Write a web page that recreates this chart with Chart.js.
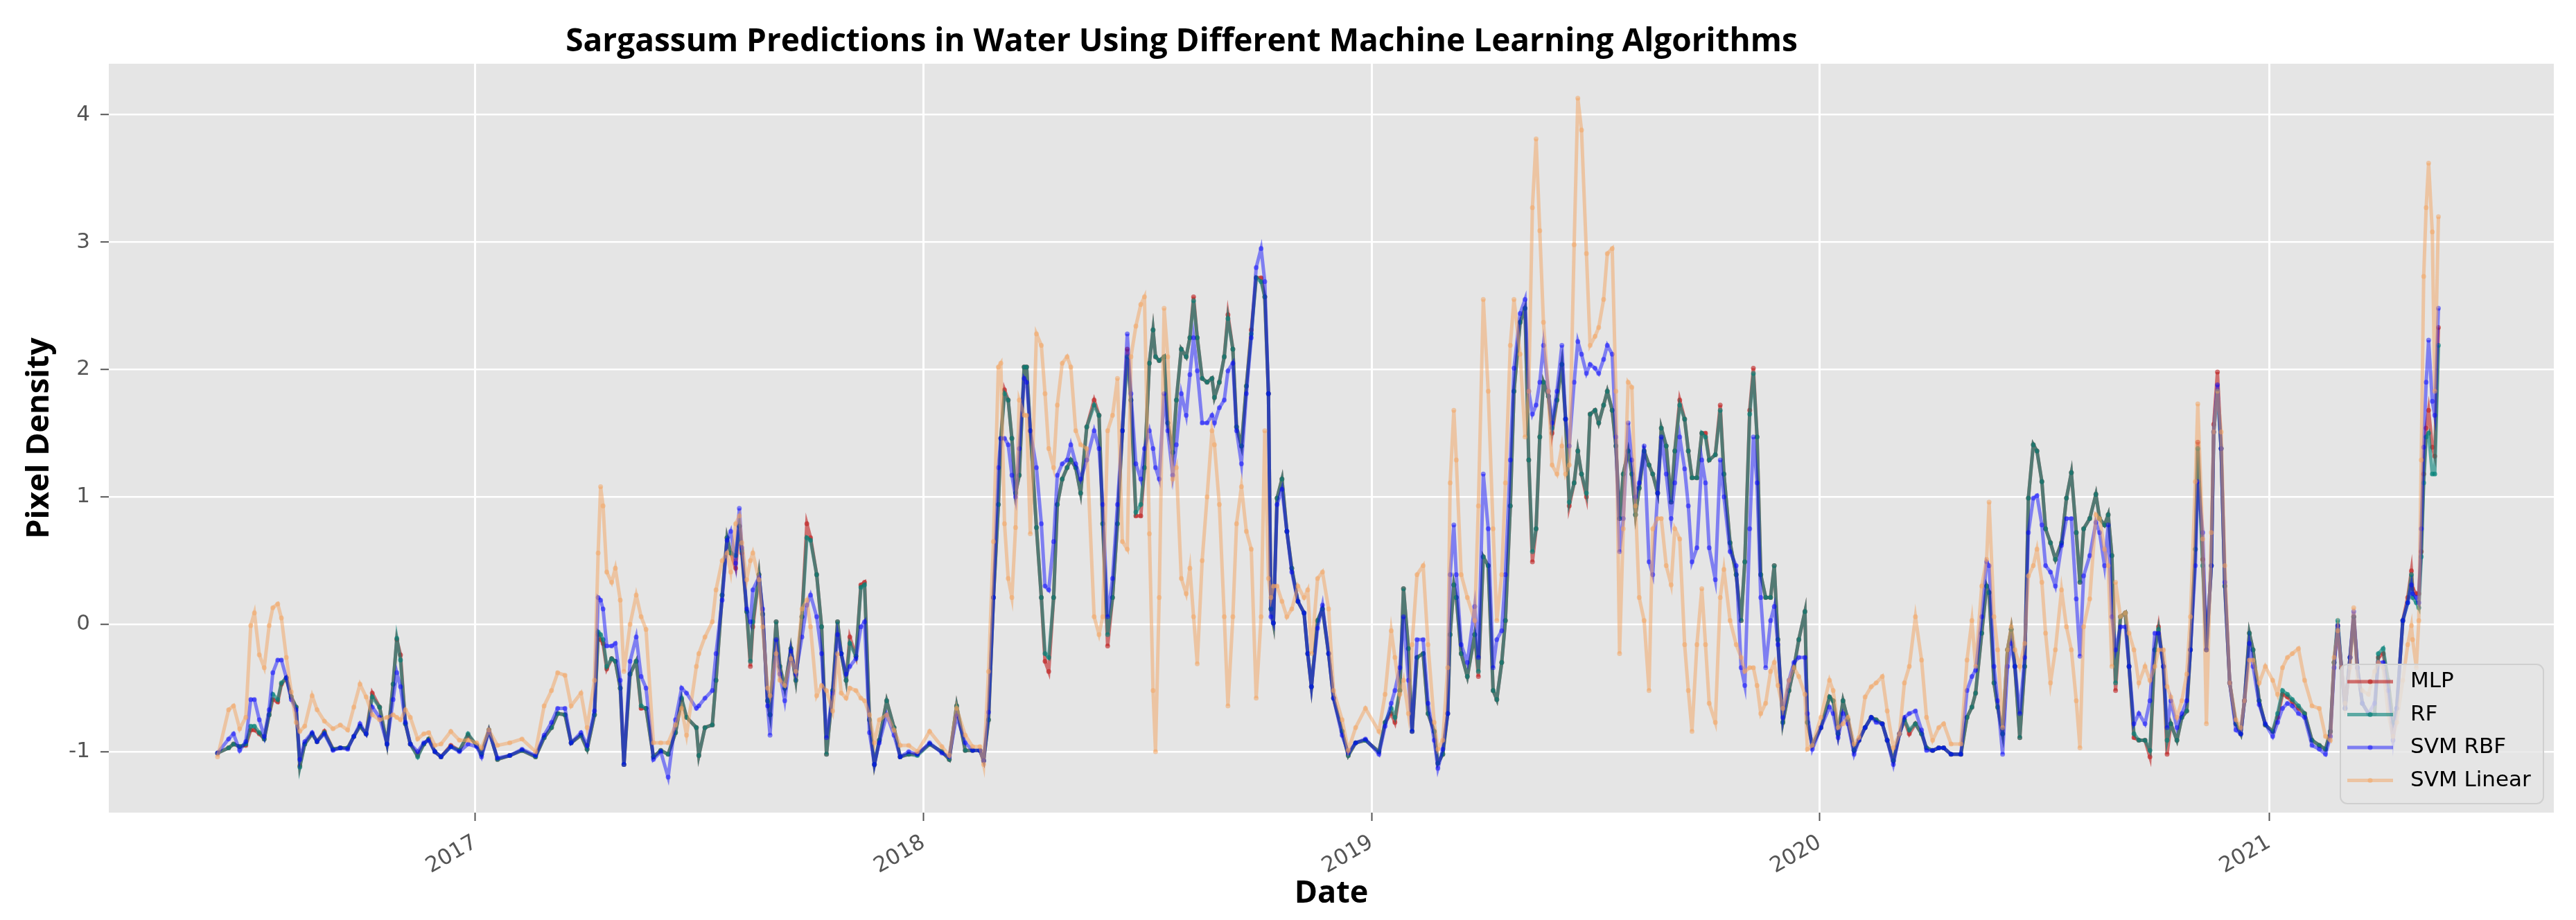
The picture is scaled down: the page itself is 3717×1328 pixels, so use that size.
<!DOCTYPE html>
<html>
<head>
<meta charset="utf-8">
<title>Sargassum Predictions in Water</title>
<script src="https://cdn.jsdelivr.net/npm/chart.js@4.4.1/dist/chart.umd.min.js"></script>
<style>
  html, body { margin: 0; padding: 0; background: #fff; }
  canvas { display: block; }
</style>
</head>
<body>
<canvas id="predChart" width="3717" height="1328"></canvas>
<script>
// x values: day number counted from 2016-01-01
const days = [
  // 2016
  156,165,169,174,179,183,186,190,194,198, 201,205,208,212,216,220,223,227,233,237,
  243,250,256,262,267,272,277,282,288,294, 299,302,305,309,313,319,324,328,333,338,
  346,353,360,
  // 2017
  367,371,377,384,394,404,415,422,428,433, 439,444,452,457,463,466,468,470,473,477,
  480,484,487,492,497,501,505,511,517,523, 529,534,538,546,548,553,559,562,567,571,
  574,578,581,583,587,590,592,597,600,604, 606,611,614,618,623,627,632,636,639,644,
  648,652,657,661,664,668,671,676,680,683, 687,691,695,701,707,712,719,726,
  // 2018
  736,746,752,758,765,771,777,780,784,788, 792,794,797,800,803,806,809,813,815,818,
  823,827,830,833,837,840,844,848,851,855, 859,864,870,874,877,881,885,889,893,897,
  900,904,908,911,915,918,920,923,927,930, 934,937,941,945,948,951,954,958,962,966,
  968,972,976,979,983,986,990,994,998,1002, 1006,1009,1012,1014,1016,1019,1023,1027,1031,1036,
  1041,1044,1047,1052,1056,1061,1065,1072,1077,1083, 1091,
  // 2019
  1102,1107,1112,1115,1119,1122,1126,1129,1133,1138, 1142,1147,1150,1154,1158,1160,1163,1165,1169,1174,
  1180,1183,1187,1191,1195,1198,1202,1205,1209,1212, 1217,1221,1224,1227,1230,1233,1236,1240,1243,1247,
  1251,1254,1257,1261,1264,1267,1271,1274,1278,1281, 1285,1288,1292,1295,1298,1301,1305,1308,1311,1314,
  1318,1322,1325,1329,1332,1336,1340,1343,1347,1351, 1354,1357,1361,1365,1368,1371,1376,1380,1383,1388,
  1393,1397,1400,1404,1407,1410,1413,1417,1421,1424, 1427,1431,1436,1440,1444,1449,1451,1455,
  // 2020
  1462,1469,1472,1476,1480,1484,1489,1493,1498,1503, 1507,1512,1516,1521,1526,1530,1534,1539,1544,1548,
  1553,1558,1562,1568,1576,1581,1585,1588,1593,1597, 1599,1603,1606,1610,1614,1617,1620,1624,1628,1631,
  1635,1638,1642,1645,1649,1653,1658,1662,1666,1670, 1673,1676,1681,1686,1689,1693,1696,1699,1702,1706,
  1710,1713,1717,1721,1726,1730,1734,1737,1741,1744, 1747,1752,1756,1760,1763,1767,1769,1773,1776,1780,
  1782,1785,1788,1791,1795,1800,1804,1807,1811,1814, 1819,1824,1830,
  // 2021
  1834,1838,1842,1846,1851,1856,1862,1868,1873,1877, 1880,1883,1886,1889,1893,1896,1899,1903,1908,1913,
  1916,1920,1924,1928,1931,1936,1940,1943,1944,1947, 1949,1951,1953,1955,1957,1960,1962,1965
];

const mlp = [
  -1.01,-0.97,-0.94,-0.96,-0.95,-0.83,-0.83,-0.86,-0.90,-0.71, -0.59,-0.61,-0.47,-0.42,-0.57,-0.65,-1.11,-0.94,-0.86,-0.92,
  -0.84,-0.98,-0.97,-0.97,-0.88,-0.80,-0.86,-0.54,-0.65,-0.94, -0.47,-0.12,-0.24,-0.78,-0.94,-1.03,-0.94,-0.90,-1.00,-1.04,
  -0.95,-0.99,-0.87,
  -0.95,-1.02,-0.83,-1.06,-1.03,-0.99,-1.04,-0.89,-0.81,-0.70, -0.71,-0.93,-0.87,-0.98,-0.71,-0.08,-0.12,-0.15,-0.35,-0.27,
  -0.29,-0.50,-1.10,-0.39,-0.29,-0.66,-0.66,-1.04,-0.99,-1.02, -0.85,-0.59,-0.73,-0.81,-1.03,-0.81,-0.79,-0.44,0.23,0.68,
  0.56,0.44,0.77,0.56,0.10,-0.33,-0.02,0.39,0.08,-0.60, -0.71,0.02,-0.33,-0.50,-0.19,-0.44,0.06,0.79,0.68,0.39,
  -0.02,-1.02,-0.52,0.02,-0.23,-0.44,-0.10,-0.25,0.31,0.33, -0.75,-1.10,-0.91,-0.60,-0.81,-1.04,-1.02,-1.02,
  -0.94,-1.00,-1.06,-0.64,-0.99,-0.99,-0.99,-1.07,-0.75,0.21, 0.94,1.46,1.84,1.76,1.46,1.03,1.17,2.02,2.02,1.52,
  0.76,0.21,-0.29,-0.37,0.21,0.94,1.14,1.23,1.29,1.23, 1.03,1.55,1.76,1.64,0.79,-0.17,0.21,0.79,1.52,2.16,
  1.76,0.85,0.85,1.23,2.05,2.31,2.10,2.07,2.10,1.58, 1.35,1.76,2.16,2.10,2.25,2.57,2.25,1.93,1.90,1.93,
  1.78,1.90,2.10,2.43,2.16,1.55,1.40,1.87,2.31,2.72, 2.72,2.57,1.81,0.12,0.01,0.99,1.14,0.73,0.44,0.18,
  0.09,-0.23,-0.49,0.03,0.12,-0.23,-0.58,-0.84,-1.03,-0.93, -0.91,
  -1.00,-0.77,-0.70,-0.77,-0.52,0.28,-0.19,-0.84,-0.26,-0.23, -0.70,-0.84,-1.09,-1.02,-0.70,-0.08,0.31,0.21,-0.23,-0.41,
  -0.08,-0.41,0.53,0.46,-0.52,-0.59,-0.30,0.03,0.93,1.83, 2.37,2.48,1.29,0.49,0.75,1.47,1.90,1.79,1.50,1.76,
  2.04,1.61,0.93,1.11,1.36,1.18,1.00,1.65,1.68,1.58, 1.72,1.83,1.68,1.40,0.83,1.18,1.36,1.18,0.86,1.07,
  1.36,1.25,1.18,1.03,1.54,1.40,0.96,1.36,1.76,1.61, 1.36,1.15,1.15,1.50,1.50,1.29,1.33,1.72,1.18,0.64,
  0.39,0.03,0.49,1.68,2.01,1.47,0.39,0.21,0.21,0.46, -0.12,-0.77,-0.52,-0.34,-0.12,0.10,-0.77,-0.95,
  -0.81,-0.57,-0.60,-0.86,-0.60,-0.75,-0.99,-0.91,-0.81,-0.73, -0.75,-0.78,-0.91,-1.07,-0.86,-0.75,-0.86,-0.78,-0.86,-0.97,
  -0.99,-0.97,-0.97,-1.02,-1.02,-0.73,-0.65,-0.54,-0.07,0.30, 0.25,-0.46,-0.65,-0.86,-0.20,-0.04,-0.33,-0.89,-0.33,0.99,
  1.41,1.36,1.12,0.75,0.64,0.51,0.64,0.99,1.19,0.72, 0.33,0.75,0.83,1.02,0.83,0.78,0.86,0.54,-0.52,0.06,
  0.09,-0.33,-0.89,-0.91,-0.91,-1.04,-0.20,-0.02,-0.33,-1.02, -0.78,-0.91,-0.73,-0.68,-0.20,0.59,1.43,0.51,-0.20,0.46,
  1.57,1.98,1.38,0.30,-0.46,-0.78,-0.86,-0.60,-0.07,-0.20, -0.60,-0.79,-0.84,
  -0.73,-0.55,-0.57,-0.61,-0.66,-0.70,-0.91,-0.95,-0.98,-0.84, -0.30,-0.01,-0.34,-0.66,-0.26,0.06,-0.34,-0.62,-0.70,-0.70,
  -0.26,-0.23,-0.44,-0.77,-0.66,0.03,0.21,0.42,0.28,0.24, 0.24,0.57,1.18,1.54,1.68,1.39,1.32,2.33
];

const rf = [
  -1.01,-0.97,-0.94,-0.96,-0.94,-0.80,-0.80,-0.85,-0.90,-0.71, -0.55,-0.59,-0.46,-0.42,-0.57,-0.65,-1.12,-0.94,-0.86,-0.92,
  -0.85,-0.98,-0.97,-0.97,-0.88,-0.80,-0.86,-0.57,-0.65,-0.94, -0.47,-0.11,-0.28,-0.78,-0.94,-1.04,-0.94,-0.90,-1.00,-1.04,
  -0.96,-0.99,-0.86,
  -0.95,-1.02,-0.83,-1.06,-1.03,-0.99,-1.04,-0.89,-0.81,-0.70, -0.71,-0.93,-0.87,-0.98,-0.71,-0.06,-0.08,-0.12,-0.33,-0.27,
  -0.29,-0.50,-1.10,-0.39,-0.29,-0.64,-0.66,-1.04,-0.99,-1.02, -0.85,-0.58,-0.73,-0.81,-1.03,-0.81,-0.79,-0.44,0.23,0.68,
  0.56,0.54,0.77,0.58,0.10,-0.29,0.02,0.39,0.08,-0.60, -0.71,0.02,-0.33,-0.50,-0.19,-0.44,0.06,0.68,0.66,0.39,
  -0.02,-1.02,-0.52,0.02,-0.23,-0.44,-0.15,-0.25,0.29,0.31, -0.75,-1.10,-0.91,-0.60,-0.81,-1.04,-1.02,-1.03,
  -0.94,-1.00,-1.06,-0.64,-0.99,-0.99,-0.99,-1.07,-0.75,0.21, 0.94,1.46,1.81,1.76,1.46,1.03,1.17,2.02,2.02,1.52,
  0.76,0.21,-0.23,-0.26,0.21,0.94,1.14,1.23,1.29,1.23, 1.03,1.55,1.72,1.64,0.79,-0.08,0.21,0.79,1.52,2.10,
  1.76,0.88,0.94,1.23,2.05,2.31,2.10,2.07,2.10,1.58, 1.35,1.76,2.16,2.10,2.25,2.54,2.25,1.93,1.90,1.93,
  1.78,1.90,2.10,2.40,2.16,1.55,1.40,1.87,2.28,2.72, 2.69,2.57,1.81,0.12,0.01,0.99,1.14,0.73,0.44,0.18,
  0.09,-0.23,-0.49,0.03,0.12,-0.23,-0.58,-0.84,-1.03,-0.93, -0.91,
  -1.00,-0.77,-0.66,-0.73,-0.52,0.28,-0.19,-0.84,-0.26,-0.23, -0.70,-0.84,-1.09,-1.02,-0.70,-0.08,0.31,0.21,-0.23,-0.41,
  -0.08,-0.37,0.53,0.46,-0.52,-0.59,-0.30,0.03,0.93,1.83, 2.37,2.48,1.29,0.57,0.75,1.47,1.90,1.79,1.54,1.76,
  2.04,1.61,0.96,1.11,1.36,1.18,1.03,1.65,1.68,1.58, 1.72,1.83,1.68,1.40,0.83,1.18,1.36,1.18,0.86,1.07,
  1.36,1.25,1.18,1.03,1.54,1.40,0.96,1.36,1.72,1.61, 1.36,1.15,1.15,1.50,1.47,1.29,1.33,1.68,1.18,0.64,
  0.39,0.03,0.49,1.65,1.97,1.47,0.39,0.21,0.21,0.46, -0.12,-0.77,-0.52,-0.34,-0.12,0.10,-0.77,-0.95,
  -0.81,-0.57,-0.60,-0.86,-0.60,-0.75,-0.99,-0.91,-0.81,-0.73, -0.75,-0.78,-0.91,-1.07,-0.86,-0.75,-0.83,-0.78,-0.86,-0.97,
  -0.99,-0.97,-0.97,-1.02,-1.02,-0.73,-0.65,-0.54,-0.07,0.30, 0.25,-0.46,-0.65,-0.86,-0.20,-0.04,-0.33,-0.89,-0.33,0.99,
  1.41,1.36,1.12,0.75,0.64,0.51,0.64,0.99,1.19,0.72, 0.33,0.75,0.83,1.02,0.83,0.78,0.86,0.54,-0.46,0.06,
  0.09,-0.33,-0.86,-0.91,-0.91,-0.99,-0.20,-0.04,-0.33,-0.91, -0.78,-0.91,-0.73,-0.68,-0.20,0.59,1.38,0.46,-0.20,0.46,
  1.51,1.83,1.38,0.30,-0.46,-0.78,-0.86,-0.60,-0.07,-0.20, -0.60,-0.79,-0.84,
  -0.70,-0.52,-0.55,-0.59,-0.64,-0.70,-0.91,-0.95,-0.98,-0.84, -0.30,0.03,-0.34,-0.66,-0.26,0.06,-0.34,-0.62,-0.70,-0.70,
  -0.23,-0.19,-0.44,-0.77,-0.66,0.03,0.17,0.39,0.21,0.17, 0.13,0.53,1.11,1.47,1.50,1.18,1.18,2.19
];

const svmRbf = [
  -1.01,-0.90,-0.86,-0.99,-0.92,-0.59,-0.59,-0.75,-0.88,-0.67, -0.38,-0.28,-0.28,-0.42,-0.59,-0.67,-1.06,-0.92,-0.85,-0.92,
  -0.86,-0.99,-0.97,-0.98,-0.88,-0.78,-0.86,-0.65,-0.73,-0.94, -0.59,-0.38,-0.49,-0.77,-0.94,-1.00,-0.93,-0.91,-1.00,-1.04,
  -0.96,-1.00,-0.94,
  -0.96,-1.04,-0.84,-1.05,-1.03,-0.98,-1.03,-0.87,-0.77,-0.66, -0.66,-0.93,-0.85,-0.95,-0.68,0.21,0.19,0.12,-0.17,-0.17,
  -0.15,-0.44,-1.10,-0.29,-0.10,-0.41,-0.50,-1.06,-1.00,-1.20, -0.75,-0.50,-0.54,-0.66,-0.64,-0.58,-0.52,-0.23,0.19,0.66,
  0.73,0.48,0.91,0.60,0.12,0.02,0.27,0.37,0.12,-0.64, -0.87,-0.12,-0.39,-0.60,-0.21,-0.39,-0.10,0.15,0.23,0.06,
  -0.23,-0.89,-0.54,-0.08,-0.23,-0.39,-0.33,-0.27,-0.02,0.02, -0.85,-1.10,-0.93,-0.71,-0.87,-1.04,-1.00,-1.02,
  -0.93,-1.01,-1.04,-0.72,-0.93,-0.99,-0.99,-1.07,-0.69,0.21, 1.23,1.46,1.46,1.41,1.17,1.00,1.38,1.93,1.90,1.52,
  1.23,0.79,0.30,0.27,0.65,1.17,1.26,1.29,1.41,1.26, 1.14,1.29,1.52,1.38,0.94,0.06,0.36,0.94,1.52,2.28,
  1.81,1.26,1.14,1.38,1.52,1.38,1.23,1.14,1.81,1.52, 1.17,1.41,1.81,1.64,1.96,2.25,1.99,1.58,1.58,1.64,
  1.58,1.70,1.76,1.99,2.05,1.52,1.26,1.81,2.25,2.80, 2.95,2.69,1.81,0.06,0.01,0.94,1.06,0.73,0.41,0.18,
  0.09,-0.23,-0.49,-0.03,0.15,-0.23,-0.58,-0.87,-1.01,-0.93, -0.90,
  -1.02,-0.80,-0.62,-0.52,-0.34,0.06,-0.44,-0.84,-0.12,-0.12, -0.62,-0.91,-1.13,-0.98,-0.70,0.39,0.78,0.39,-0.16,-0.30,
  0.14,-0.26,1.18,0.75,-0.34,-0.12,-0.05,0.39,1.29,2.01, 2.44,2.55,1.83,1.65,1.72,1.90,2.19,1.83,1.58,1.83,
  2.19,1.61,1.40,1.90,2.22,2.12,1.97,2.04,2.01,1.97, 2.08,2.19,2.12,1.47,0.57,0.83,1.58,1.29,1.00,1.11,
  1.40,0.49,0.39,1.03,1.47,1.18,0.83,1.11,1.47,1.22, 0.93,0.49,0.60,1.29,1.11,0.60,0.35,1.29,1.00,0.57,
  0.46,-0.34,-0.48,0.75,1.47,1.11,0.21,-0.34,0.03,0.14, -0.16,-0.73,-0.44,-0.30,-0.26,-0.26,-0.70,-0.98,
  -0.81,-0.65,-0.70,-0.89,-0.70,-0.78,-1.02,-0.91,-0.81,-0.73, -0.77,-0.78,-0.91,-1.10,-0.86,-0.73,-0.70,-0.68,-0.83,-0.99,
  -0.99,-0.97,-0.97,-1.02,-1.02,-0.52,-0.41,-0.36,0.06,0.49, 0.46,-0.33,-0.60,-1.02,-0.33,-0.15,-0.33,-0.70,-0.26,0.72,
  0.99,1.01,0.78,0.46,0.41,0.30,0.62,0.83,0.83,0.20, -0.25,0.38,0.54,0.80,0.72,0.46,0.78,0.06,-0.20,-0.02,
  -0.02,-0.33,-0.78,-0.70,-0.78,-0.60,-0.07,-0.07,-0.33,-0.81, -0.60,-0.81,-0.70,-0.60,-0.20,0.46,1.12,0.72,-0.20,0.46,
  1.51,1.88,1.38,0.33,-0.46,-0.83,-0.86,-0.60,-0.15,-0.33, -0.63,-0.78,-0.88,
  -0.77,-0.66,-0.62,-0.64,-0.70,-0.73,-0.95,-0.98,-1.02,-0.88, -0.34,-0.01,-0.34,-0.66,-0.26,0.10,-0.34,-0.62,-0.70,-0.62,
  -0.30,-0.30,-0.52,-0.91,-0.66,0.03,0.17,0.31,0.24,0.21, 0.17,0.75,1.39,1.90,2.23,1.75,1.64,2.48
];

const svmLinear = [
  -1.04,-0.67,-0.64,-0.82,-0.73,-0.01,0.09,-0.24,-0.34,-0.01, 0.13,0.16,0.05,-0.26,-0.53,-0.77,-0.84,-0.80,-0.56,-0.67,
  -0.76,-0.82,-0.79,-0.83,-0.65,-0.47,-0.57,-0.71,-0.75,-0.73, -0.71,-0.73,-0.75,-0.67,-0.73,-0.90,-0.86,-0.85,-0.95,-0.94,
  -0.84,-0.91,-0.91,
  -0.93,-0.97,-0.83,-0.95,-0.93,-0.90,-1.00,-0.64,-0.52,-0.38, -0.40,-0.64,-0.54,-0.81,-0.44,0.56,1.08,0.93,0.41,0.33,
  0.44,0.19,-0.37,0.00,0.23,0.06,-0.04,-0.93,-0.93,-0.93, -0.79,-0.66,-0.87,-0.33,-0.23,-0.10,0.02,0.27,0.50,0.56,
  0.41,0.79,0.85,0.64,0.35,0.50,0.56,0.35,-0.02,-0.50, -0.56,-0.23,-0.44,-0.48,-0.27,-0.37,0.12,0.19,-0.02,-0.56,
  -0.48,-0.52,-0.68,-0.23,-0.54,-0.58,-0.50,-0.52,-0.58,-0.60, -0.71,-0.93,-0.75,-0.71,-0.83,-0.95,-0.95,-1.00,
  -0.84,-0.96,-1.03,-0.66,-0.87,-0.96,-0.96,-1.10,-0.37,0.65, 2.02,2.05,0.79,0.36,0.21,0.76,1.76,1.64,1.64,0.71,
  2.28,2.19,1.81,1.38,1.23,1.72,2.05,2.10,2.02,1.52, 1.41,1.38,0.06,-0.08,0.06,1.52,1.64,1.93,0.65,0.59,
  2.10,2.34,2.51,2.57,0.71,-0.52,-1.00,0.21,2.48,2.10, 1.14,1.23,0.36,0.24,0.44,0.06,-0.31,0.50,1.00,1.52,
  1.41,0.94,0.06,-0.64,0.06,0.79,1.08,0.73,0.59,-0.58, 0.06,1.52,0.36,0.21,0.30,0.30,0.18,0.06,0.12,0.30,
  0.21,0.27,-0.23,0.36,0.41,0.12,-0.52,-0.75,-0.99,-0.81, -0.66,
  -0.84,-0.55,-0.05,-0.26,-0.55,-0.44,-0.70,-0.16,0.39,0.46, -0.16,-0.77,-0.98,-0.91,-0.34,1.11,1.68,1.29,0.39,0.21,
  0.03,0.93,2.55,1.83,0.75,0.03,0.39,1.11,2.19,2.55, 2.12,1.47,1.83,3.27,3.81,3.09,2.37,1.83,1.25,1.18,
  1.40,1.18,1.25,2.98,4.13,3.88,2.91,2.19,2.26,2.33, 2.55,2.91,2.95,1.83,-0.23,0.75,1.90,1.86,0.93,0.21,
  0.03,-0.52,0.75,0.83,0.83,0.46,0.31,0.75,0.67,-0.16, -0.52,-0.84,-0.16,0.28,-0.16,-0.62,-0.77,0.21,0.43,0.03,
  -0.16,-0.26,-0.37,-0.34,-0.34,-0.48,-0.70,-0.62,-0.37,-0.30, -0.48,-0.66,-0.44,-0.34,-0.41,-0.55,-0.98,-0.95,
  -0.73,-0.44,-0.52,-0.81,-0.78,-0.73,-0.94,-0.89,-0.57,-0.49, -0.46,-0.41,-0.68,-0.97,-0.86,-0.46,-0.33,0.06,-0.28,-0.73,
  -0.91,-0.81,-0.78,-0.94,-0.94,-0.28,0.03,-0.33,0.30,0.51, 0.96,0.06,-0.20,-0.81,-0.20,-0.02,-0.20,-0.33,-0.15,0.38,
  0.46,0.59,0.33,-0.07,-0.46,-0.20,0.27,-0.02,-0.20,-0.60, -0.97,-0.02,0.20,0.86,0.83,0.59,0.46,-0.33,0.33,0.06,
  0.09,-0.07,-0.20,-0.46,-0.33,-0.44,-0.33,-0.20,-0.20,-0.49, -0.57,-0.73,-0.60,-0.39,0.06,1.12,1.73,0.67,-0.78,0.72,
  1.51,1.83,1.51,0.46,-0.46,-0.75,-0.81,-0.60,-0.28,-0.28, -0.46,-0.33,-0.44,
  -0.55,-0.34,-0.26,-0.23,-0.19,-0.44,-0.64,-0.66,-0.88,-0.91, -0.26,-0.05,-0.34,-0.62,-0.34,0.13,-0.44,-0.52,-0.55,-0.37,
  -0.30,-0.34,-0.70,-0.88,-0.77,-0.44,-0.16,-0.01,-0.12,-0.34, 0.03,1.29,2.73,3.27,3.62,3.08,1.83,3.20
];

const yearTicks = [366, 731, 1096, 1461, 1827]; // 1 January of each year
const yearLabels = ['2017', '2018', '2019', '2020', '2021'];
const densityTicks = [-1, 0, 1, 2, 3, 4];

const titleText = 'Sargassum Predictions in Water Using Different Machine Learning Algorithms';

function toPoints(values) {
  return days.map((d, i) => ({ x: d, y: values[i] }));
}

function series(label, values, color, order) {
  return {
    label: label,
    data: toPoints(values),
    borderColor: color,
    backgroundColor: color,
    pointBackgroundColor: color,
    pointBorderWidth: 0,
    pointRadius: 3.5,
    borderWidth: 5,
    tension: 0,
    order: order
  };
}

// grey panel behind the lines
const plotBackground = {
  id: 'plotBackground',
  beforeDraw(chart) {
    const { ctx, chartArea: a } = chart;
    ctx.save();
    ctx.fillStyle = '#E5E5E5';
    ctx.fillRect(a.left, a.top, a.right - a.left, a.bottom - a.top);
    ctx.restore();
  }
};

const chartTitle = {
  id: 'chartTitle',
  afterDraw(chart) {
    const ctx = chart.ctx;
    ctx.save();
    ctx.font = 'bold 46px "Open Sans"';
    ctx.fillStyle = '#000';
    ctx.textAlign = 'center';
    ctx.textBaseline = 'alphabetic';
    ctx.fillText(titleText, 1705, 74);
    ctx.restore();
  }
};

// legend box sitting in the lower right corner of the plot
const cornerLegend = {
  id: 'cornerLegend',
  afterDraw(chart) {
    const { ctx, chartArea: a } = chart;
    const boxW = 293, boxH = 201;
    const x0 = a.right - 15 - boxW;
    const y0 = a.bottom - 13 - boxH;
    ctx.save();
    ctx.beginPath();
    ctx.roundRect(x0, y0, boxW, boxH, 10);
    ctx.fillStyle = 'rgba(229,229,229,0.8)';
    ctx.fill();
    ctx.strokeStyle = '#cfcfcf';
    ctx.lineWidth = 2;
    ctx.stroke();
    ctx.font = '31px "DejaVu Sans"';
    ctx.textBaseline = 'middle';
    ctx.textAlign = 'left';
    chart.data.datasets.forEach((ds, i) => {
      const y = y0 + 25 + i * 47.5;
      ctx.strokeStyle = ds.borderColor;
      ctx.lineWidth = ds.borderWidth;
      ctx.beginPath();
      ctx.moveTo(x0 + 10, y);
      ctx.lineTo(x0 + 76, y);
      ctx.stroke();
      ctx.fillStyle = ds.borderColor;
      ctx.beginPath();
      ctx.arc(x0 + 43, y, 3.5, 0, Math.PI * 2);
      ctx.fill();
      ctx.fillStyle = '#000';
      ctx.fillText(ds.label, x0 + 101, y);
    });
    ctx.restore();
  }
};

const tickFont = { family: 'DejaVu Sans', size: 31 };
const axisTitleFont = { family: 'Open Sans', size: 45, weight: 'bold' };

new Chart(document.getElementById('predChart'), {
  type: 'line',
  data: {
    datasets: [
      series('MLP', mlp, 'rgba(190,30,30,0.6)', 4),
      series('RF', rf, 'rgba(0,128,118,0.6)', 3),
      series('SVM RBF', svmRbf, 'rgba(0,0,255,0.45)', 2),
      series('SVM Linear', svmLinear, 'rgba(244,164,96,0.5)', 1)
    ]
  },
  options: {
    responsive: false,
    devicePixelRatio: 1,
    animation: false,
    events: [],
    layout: { padding: { top: 92, right: 32, bottom: 0, left: 0 } },
    plugins: {
      legend: { display: false },
      title: { display: false },
      tooltip: { enabled: false }
    },
    scales: {
      x: {
        type: 'linear',
        min: 67.4,
        max: 2059,
        afterFit(scale) { scale.height = 155; },
        afterBuildTicks(scale) { scale.ticks = yearTicks.map(v => ({ value: v })); },
        ticks: {
          autoSkip: false,
          minRotation: 30,
          maxRotation: 30,
          padding: 13,
          color: '#555',
          font: tickFont,
          callback: (value) => yearLabels[yearTicks.indexOf(value)]
        },
        grid: { color: '#fff', lineWidth: 3, tickColor: '#555', tickLength: 12, tickWidth: 2 },
        border: { display: false },
        title: { display: true, text: 'Date', color: '#000', font: axisTitleFont, padding: { top: 0, bottom: 11 } }
      },
      y: {
        min: -1.478,
        max: 4.40,
        afterFit(scale) { scale.width = 157; },
        afterBuildTicks(scale) { scale.ticks = densityTicks.map(v => ({ value: v })); },
        ticks: { padding: 15, color: '#555', font: tickFont },
        grid: { color: '#fff', lineWidth: 2.5, tickColor: '#555', tickLength: 12, tickWidth: 2 },
        border: { display: false },
        title: { display: true, text: 'Pixel Density', color: '#000', font: axisTitleFont, padding: { top: 30, bottom: 0 } }
      }
    }
  },
  plugins: [plotBackground, chartTitle, cornerLegend]
});
</script>
</body>
</html>
